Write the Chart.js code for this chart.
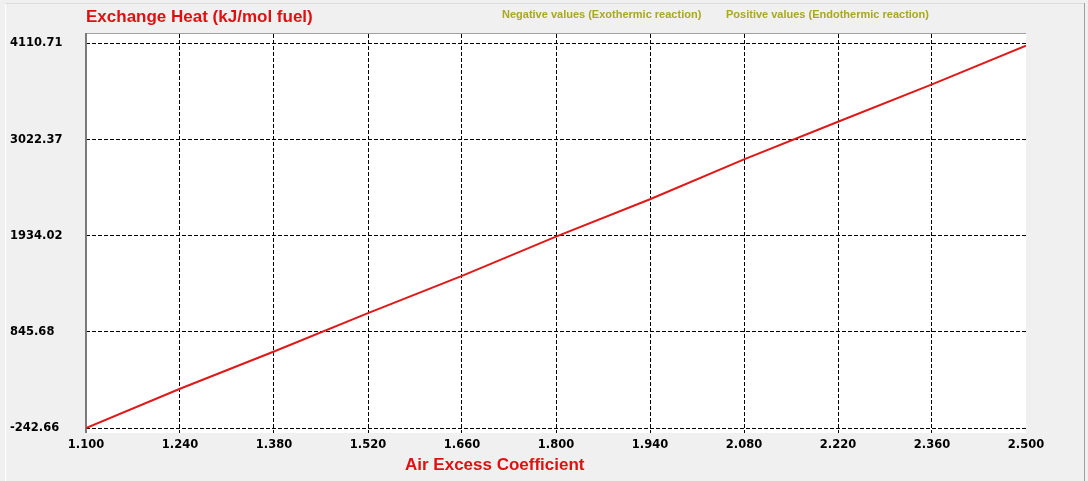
<!DOCTYPE html>
<html>
<head>
<meta charset="utf-8">
<script src="https://cdn.jsdelivr.net/npm/chart.js@4/dist/chart.umd.min.js"></script>
<style>
  html, body { margin: 0; padding: 0; background: #f0f0f0; }
  #wrap { width: 1088px; height: 481px; }
</style>
</head>
<body>
<div id="wrap"><canvas id="myChart1" width="1088" height="481"></canvas></div>
<script>
// air excess coefficient vs exchange heat
const airExcess = [1.10, 1.24, 1.38, 1.52, 1.66, 1.80, 1.94, 2.08, 2.22, 2.36, 2.50];
const exchangeHeat = [-242.66, 202, 624, 1058, 1480, 1924, 2347, 2799, 3224, 3647, 4086];

const xTicks = [1.10, 1.24, 1.38, 1.52, 1.66, 1.80, 1.94, 2.08, 2.22, 2.36, 2.50];
const yTicks = [-242.66, 845.68, 1934.02, 3022.37, 4110.71];

const chartTitle = 'Exchange Heat (kJ/mol fuel)';
const xTitle = 'Air Excess Coefficient';
const note1 = 'Negative values (Exothermic reaction)';
const note2 = 'Positive values (Endothermic reaction)';

const tickFont = { family: 'DejaVu Sans', size: 11.5, weight: 'bold' };
const dash = [4, 2];

const frame = {
    id: 'frame',
    beforeDraw(chart) {
        const ctx = chart.ctx;
        const a = chart.chartArea;
        ctx.save();
        ctx.fillStyle = '#f0f0f0';
        ctx.fillRect(0, 0, chart.width, chart.height);
        // panel edges
        ctx.fillStyle = '#ffffff';
        ctx.fillRect(5, 3, 1, chart.height - 3);
        ctx.fillStyle = '#dcdcdc';
        ctx.fillRect(5, 3, 1080, 1);
        ctx.fillStyle = '#a0a0a0';
        ctx.fillRect(1084, 3, 1, chart.height - 3);
        // plot background + top edge
        ctx.fillStyle = '#ffffff';
        ctx.fillRect(a.left, a.top, a.right - a.left, a.bottom - a.top);
        ctx.fillStyle = '#a0a0a0';
        ctx.fillRect(a.left, a.top - 1, a.right - a.left, 1);
        ctx.restore();
    },
    beforeDatasetsDraw(chart) {
        // solid left axis line
        const ctx = chart.ctx;
        const a = chart.chartArea;
        ctx.save();
        ctx.fillStyle = '#7a7a7a';
        ctx.fillRect(a.left - 1, a.top - 1, 2, a.bottom - a.top + 1);
        ctx.restore();
    },
    afterDraw(chart) {
        const ctx = chart.ctx;
        ctx.save();
        ctx.textBaseline = 'middle';
        ctx.textAlign = 'left';
        ctx.fillStyle = '#e01010';
        ctx.font = 'bold 17px "Liberation Sans"';
        ctx.fillText(chartTitle, 86, 17);
        ctx.fillText(xTitle, 405, 465);
        ctx.fillStyle = '#a8a820';
        ctx.font = 'bold 11px "Liberation Sans"';
        ctx.fillText(note1, 502, 15);
        ctx.fillText(note2, 726, 15);
        ctx.restore();
    }
};

const data = {
    labels: airExcess,
    datasets: [{
        label: chartTitle,
        data: airExcess.map((x, i) => ({ x: x, y: exchangeHeat[i] })),
        borderColor: '#e01818',
        backgroundColor: '#e01818',
        borderWidth: 2,
        pointRadius: 0,
        tension: 0,
    }]
};

const config = {
    type: 'line',
    data: data,
    options: {
        responsive: false,
        animation: false,
        layout: { padding: { left: 10, top: 34, right: 62, bottom: 0 } },
        plugins: {
            legend: { display: false },
            title: { display: false },
            tooltip: { enabled: false }
        },
        scales: {
            x: {
                type: 'linear',
                min: 1.1,
                max: 2.5,
                afterBuildTicks: (s) => { s.ticks = xTicks.map(v => ({ value: v })); },
                afterFit: (s) => { s.height = 48; },
                border: { display: false, dash: dash },
                grid: {
                    // no grid line on the right edge
                    color: (c) => (c.tick && c.tick.value >= 2.5) ? 'rgba(0,0,0,0)' : '#000000',
                    lineWidth: 1,
                    drawTicks: false
                },
                ticks: {
                    autoSkip: false,
                    maxRotation: 0,
                    padding: 5,
                    color: '#000000',
                    font: tickFont,
                    callback: (v) => Number(v).toFixed(3)
                }
            },
            y: {
                type: 'linear',
                min: -299,
                max: 4218,
                afterBuildTicks: (s) => { s.ticks = yTicks.map(v => ({ value: v })); },
                afterFit: (s) => { s.width = 76; },
                border: { display: false, dash: dash },
                grid: { color: '#000000', lineWidth: 1, drawTicks: false },
                ticks: {
                    crossAlign: 'far',
                    color: '#000000',
                    font: tickFont,
                    callback: (v) => Number(v).toFixed(2)
                }
            }
        }
    },
    plugins: [frame]
};

const myChart = new Chart(
    document.querySelector('#myChart1'),
    config
);
</script>
</body>
</html>
